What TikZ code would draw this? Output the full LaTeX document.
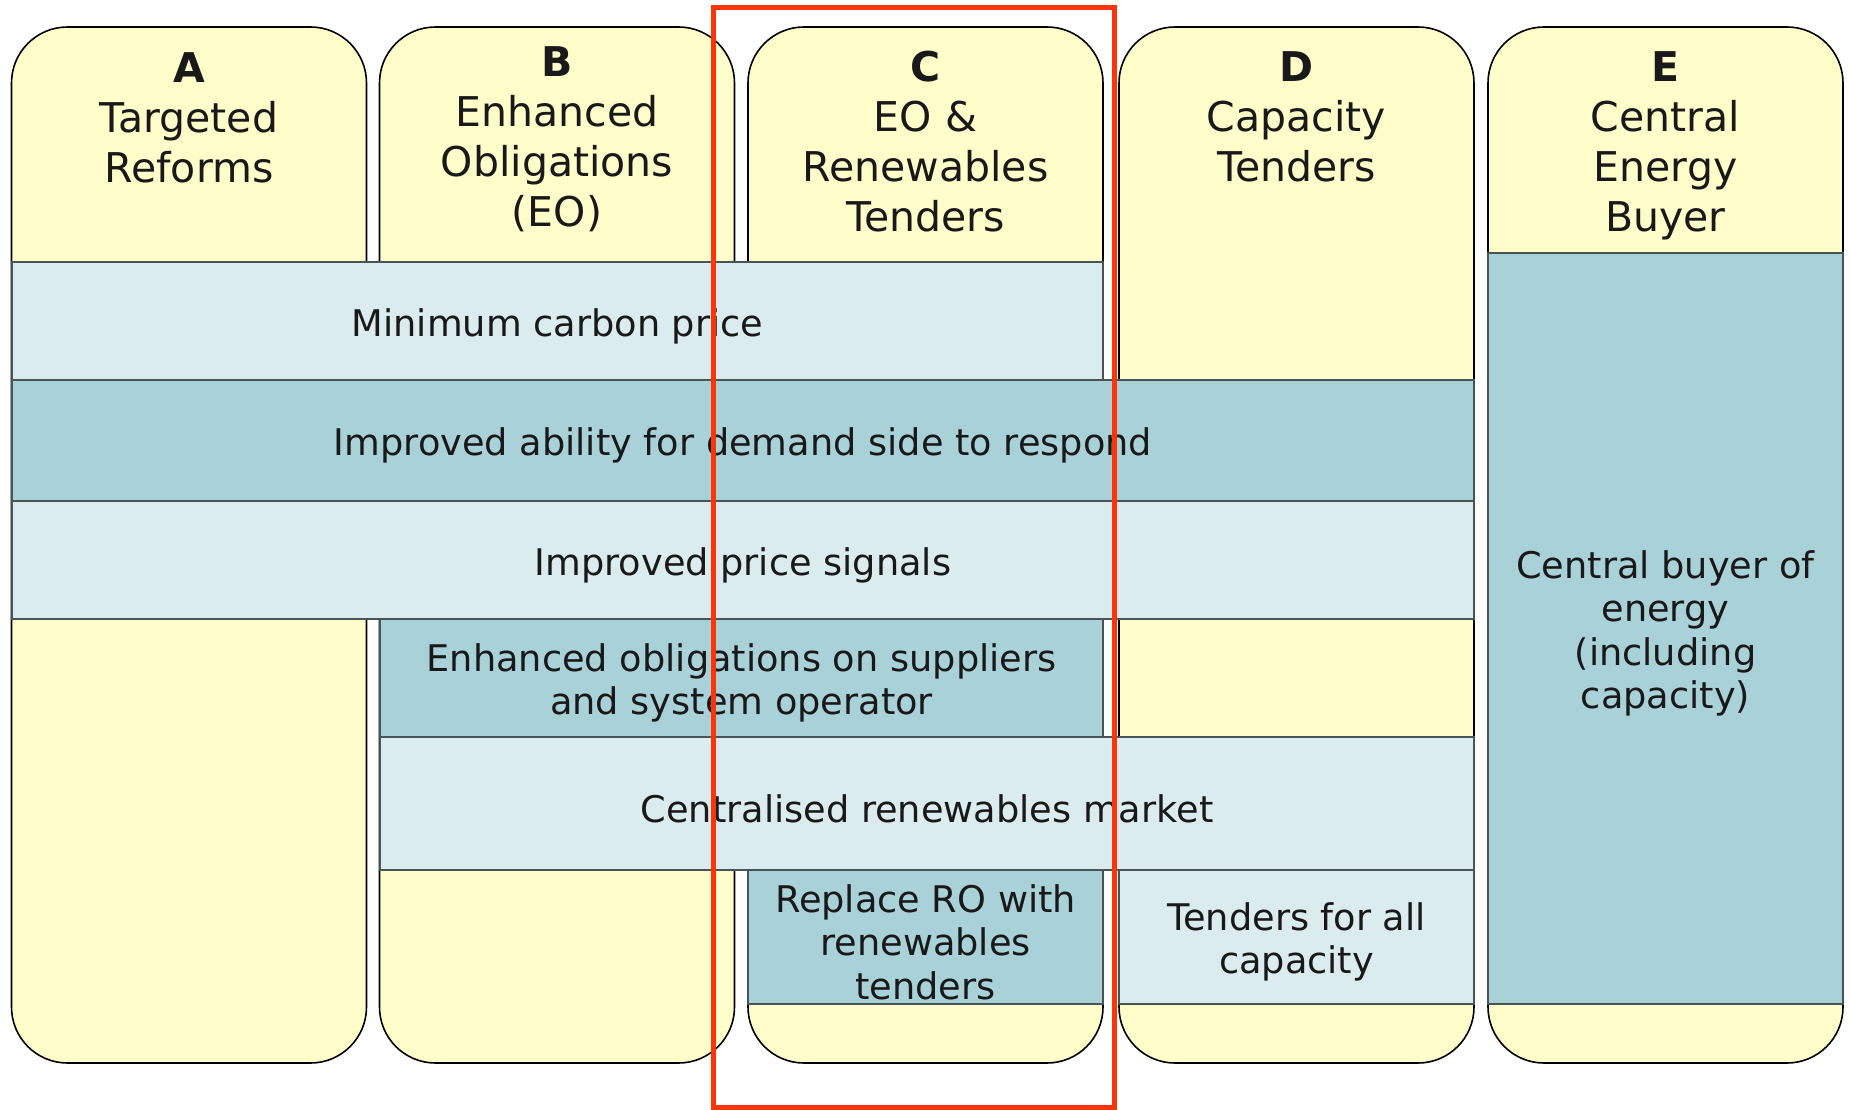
\documentclass[tikz,border=0pt]{standalone}
\usepackage{fontspec}
\setmainfont{DejaVu Sans}
\begin{document}
\begin{tikzpicture}[x=1pt,y=-1pt,
  colfill/.style={draw=black, line width=1.6pt, fill=ylw, rounded corners=56pt,
    minimum width=355pt, minimum height=1036pt, inner sep=0pt},
  hdr/.style={anchor=north, align=center, inner sep=0pt, text=txt,
    font=\fontsize{41}{50}\selectfont},
  bandtext/.style={align=center, inner sep=0pt, text=txt, yshift=-5pt,
    font=\fontsize{36.7}{43.5}\selectfont},
  band/.style={draw=edge, line width=1.5pt, inner sep=0pt},
  lightband/.style={band, fill=pale},
  darkband/.style={band, fill=teal}]
\definecolor{ylw}{RGB}{255,253,201}
\definecolor{pale}{RGB}{218,236,238}
\definecolor{teal}{RGB}{168,210,216}
\definecolor{edge}{RGB}{72,84,86}
\definecolor{txt}{RGB}{25,25,25}
\definecolor{frame}{RGB}{252,52,10}
\useasboundingbox (0,0) rectangle (1850,1110);

% five option columns
\node[colfill] (colA) at (189,545) {};
\node[colfill] (colB) at (557,545) {};
\node[colfill] (colC) at (925.5,545) {};
\node[colfill] (colD) at (1296.5,545) {};
\node[colfill] (colE) at (1665.5,545) {};

% column headings
\node[hdr] (hA) at (189,52) {\textbf{A}\\Targeted\\Reforms};
\node[hdr] (hB) at (557,46) {\textbf{B}\\Enhanced\\Obligations\\(EO)};
\node[hdr] (hC) at (925.5,51) {\textbf{C}\\EO \&\\Renewables\\Tenders};
\node[hdr] (hD) at (1296.5,51) {\textbf{D}\\Capacity\\Tenders};
\node[hdr] (hE) at (1665.5,51) {\textbf{E}\\Central\\Energy\\Buyer};

% measures spanning the columns
\node[lightband, minimum width=1091pt, minimum height=118pt] (carbon) at (557.5,321) {};
\node[darkband, minimum width=1462pt, minimum height=121pt] (demand) at (743,440.5) {};
\node[lightband, minimum width=1462pt, minimum height=118pt] (signals) at (743,560) {};
\node[darkband, minimum width=723pt, minimum height=118pt] (eo) at (741.5,678) {};
\node[lightband, minimum width=1094pt, minimum height=133pt] (renew) at (927,803.5) {};
\node[darkband, minimum width=355pt, minimum height=134pt] (ro) at (925.5,937) {};
\node[lightband, minimum width=355pt, minimum height=134pt] (tenders) at (1296.5,937) {};
\node[darkband, minimum width=355pt, minimum height=751pt] (buyer) at (1665.5,628.5) {};

% band labels
\node[bandtext] (tcarbon) at (carbon.center) {Minimum carbon price};
\node[bandtext] (tdemand) at (demand.center) {Improved ability for demand side to respond};
\node[bandtext] (tsignals) at (signals.center) {Improved price signals};
\node[bandtext] (teo) at (eo.center) {Enhanced obligations on suppliers\\and system operator};
\node[bandtext] (trenew) at (renew.center) {Centralised renewables market};
\node[bandtext] (tro) at (ro.center) {Replace RO with\\renewables\\tenders};
\node[bandtext] (ttenders) at (tenders.center) {Tenders for all\\capacity};
\node[bandtext] (tbuyer) at (buyer.center) {Central buyer of\\energy\\(including\\capacity)};

% highlight frame around option C
\draw[frame, line width=5pt] (713.5,7.5) rectangle (1114,1107.5);
\end{tikzpicture}
\end{document}
